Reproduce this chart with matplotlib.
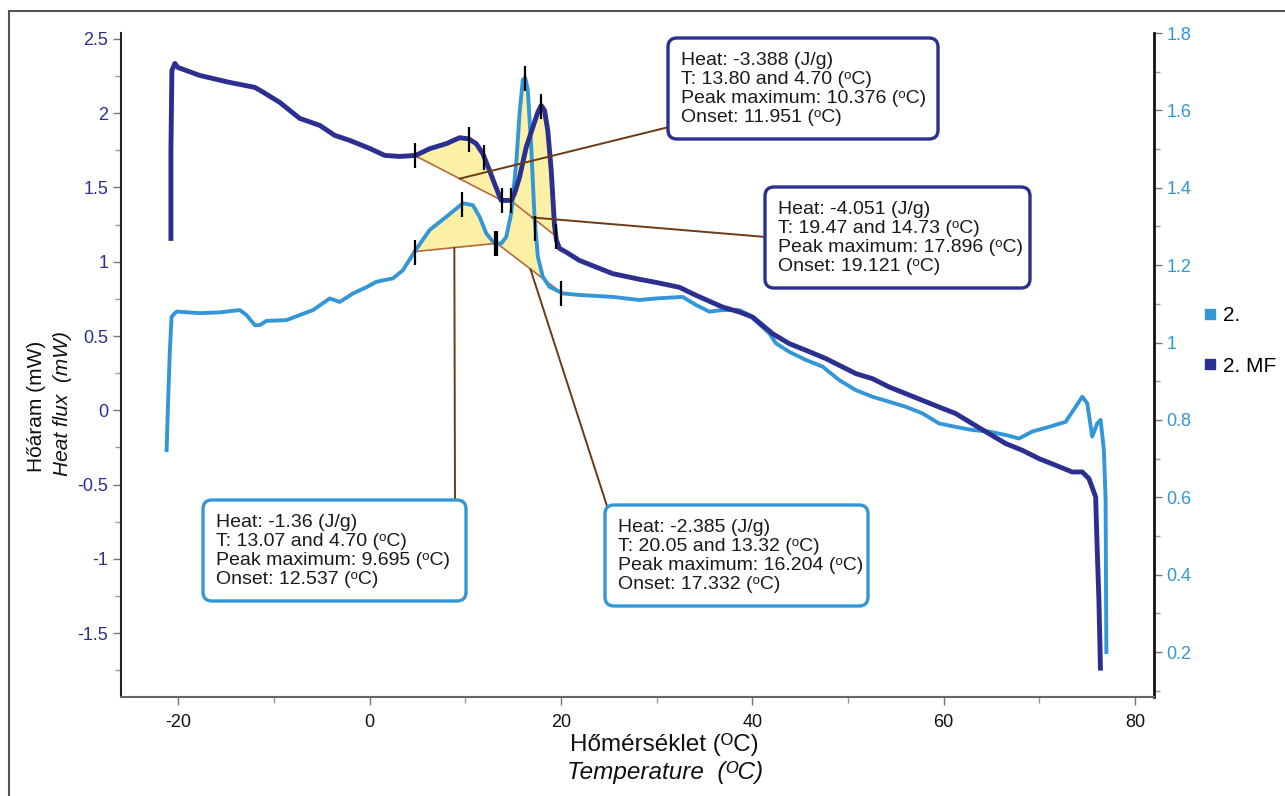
import numpy as np
import matplotlib.pyplot as plt
from matplotlib.patches import FancyBboxPatch
from matplotlib.lines import Line2D
from matplotlib.ticker import MultipleLocator, FormatStrFormatter

plt.rcParams['font.family'] = ['Liberation Sans', 'DejaVu Sans']
plt.rcParams['axes.unicode_minus'] = False

DARK = '#2b2f8f'
LIGHT = '#3397d7'
FILL = '#fbf0a6'
BASE = '#b8693a'
LINK = '#6b3a12'

# sample "2. MF" -> left axis (mW)
temp_mf = [-20.78, -20.78, -20.68, -20.37, -20.05, -17.75, -14.62, -12.01, -11.28, -9.40,
           -7.31, -5.22, -3.66, -2.09, 0.00, 1.57, 3.13, 4.80, 6.27, 8.01,
           9.40, 10.34, 11.14, 11.83, 12.53, 13.05, 13.75, 14.80, 15.14, 15.67,
           16.37, 17.06, 17.58, 17.93, 18.28, 18.62, 18.98, 19.32, 19.53, 19.84,
           20.54, 21.93, 23.68, 25.41, 28.20, 29.94, 32.38, 34.12, 36.90, 38.64,
           40.03, 42.12, 43.86, 45.61, 47.70, 49.09, 50.83, 52.56, 54.31, 56.05,
           57.79, 59.53, 61.27, 63.01, 64.75, 66.50, 68.23, 69.97, 71.72, 73.45,
           74.50, 75.20, 75.90, 76.03, 76.24, 76.40]
flux_mf = [1.157, 1.750, 2.288, 2.335, 2.308, 2.254, 2.207, 2.174, 2.147, 2.073,
           1.965, 1.918, 1.851, 1.817, 1.763, 1.716, 1.709, 1.716, 1.761, 1.795,
           1.835, 1.828, 1.795, 1.727, 1.615, 1.526, 1.413, 1.413, 1.458, 1.570,
           1.772, 1.906, 2.007, 2.052, 2.019, 1.884, 1.615, 1.245, 1.144, 1.090,
           1.065, 1.009, 0.964, 0.920, 0.882, 0.861, 0.828, 0.774, 0.695, 0.662,
           0.628, 0.516, 0.449, 0.404, 0.348, 0.303, 0.247, 0.213, 0.157, 0.112,
           0.067, 0.022, -0.022, -0.090, -0.157, -0.224, -0.269, -0.325, -0.370, -0.415,
           -0.415, -0.460, -0.583, -0.875, -1.279, -1.736]

# sample "2." -> right axis
temp_2 = [-21.23, -21.06, -20.89, -20.71, -20.19, -17.75, -15.67, -13.58, -12.88, -12.01,
          -11.49, -10.79, -8.70, -7.31, -5.92, -4.18, -3.13, -1.74, -0.34, 0.70,
          2.43, 3.48, 4.80, 6.27, 8.01, 9.74, 10.79, 11.49, 12.19, 13.05,
          13.75, 14.28, 14.80, 15.32, 15.67, 16.01, 16.26, 16.53, 16.89, 17.23,
          17.58, 18.10, 18.80, 20.19, 21.93, 25.41, 28.20, 29.94, 32.72, 34.12,
          35.51, 36.90, 38.64, 39.69, 41.78, 42.48, 43.86, 45.61, 47.34, 49.09,
          50.83, 52.56, 54.31, 56.05, 57.79, 59.53, 61.27, 63.01, 64.75, 66.50,
          67.89, 69.27, 71.02, 72.76, 73.81, 74.50, 75.02, 75.54, 76.06, 76.42,
          76.76, 76.94, 76.97, 77.02]
flux_2 = [0.722, 0.860, 0.981, 1.067, 1.080, 1.076, 1.078, 1.084, 1.071, 1.045,
          1.045, 1.056, 1.058, 1.071, 1.084, 1.114, 1.105, 1.127, 1.143, 1.157,
          1.166, 1.187, 1.239, 1.291, 1.325, 1.360, 1.355, 1.325, 1.282, 1.256,
          1.256, 1.273, 1.334, 1.463, 1.592, 1.679, 1.684, 1.653, 1.506, 1.325,
          1.222, 1.170, 1.144, 1.127, 1.123, 1.118, 1.110, 1.114, 1.118, 1.097,
          1.080, 1.084, 1.084, 1.071, 1.024, 0.998, 0.976, 0.955, 0.938, 0.903,
          0.877, 0.860, 0.847, 0.834, 0.817, 0.791, 0.782, 0.774, 0.770, 0.761,
          0.752, 0.770, 0.782, 0.795, 0.834, 0.860, 0.843, 0.757, 0.791, 0.800,
          0.722, 0.593, 0.438, 0.200]

# integration limits and marked temperatures
peaks_mf = [(4.70, 13.80), (14.73, 19.47)]
peaks_2 = [(4.70, 13.07), (13.32, 20.05)]
marks_mf = [4.70, 10.376, 11.951, 13.80, 14.73, 17.896, 19.47]
marks_2 = [4.70, 9.695, 13.07, 13.32, 16.204, 17.332, 20.05]

# callout texts, the temperature on the baseline where the leader starts
notes_mf = [
    ("Heat: -3.388 (J/g)\nT: 13.80 and 4.70 (ᵒC)\n"
     "Peak maximum: 10.376 (ᵒC)\nOnset: 11.951 (ᵒC)", 9.4),
    ("Heat: -4.051 (J/g)\nT: 19.47 and 14.73 (ᵒC)\n"
     "Peak maximum: 17.896 (ᵒC)\nOnset: 19.121 (ᵒC)", 17.0),
]
notes_2 = [
    ("Heat: -1.36 (J/g)\nT: 13.07 and 4.70 (ᵒC)\n"
     "Peak maximum: 9.695 (ᵒC)\nOnset: 12.537 (ᵒC)", 8.85),
    ("Heat: -2.385 (J/g)\nT: 20.05 and 13.32 (ᵒC)\n"
     "Peak maximum: 16.204 (ᵒC)\nOnset: 17.332 (ᵒC)", 16.8),
]
# box rectangles in image pixels: left, top, right, bottom
boxes_mf = [(668, 38, 938, 139), (765, 187, 1030, 288)]
boxes_2 = [(203, 500, 466, 601), (605, 505, 868, 606)]
# where the leader meets the box
ends_mf = [(669, 127), (766, 237)]
ends_2 = [(455, 501), (607, 506)]

W, H = 1285, 796
fig = plt.figure(figsize=(W / 100, H / 100), dpi=100)
ax = fig.add_axes([121 / W, 99 / H, (1154 - 121) / W, (697 - 33) / H])
ax2 = ax.twinx()
ax.set_zorder(2)
ax2.set_zorder(1)
ax.patch.set_visible(False)

ax.set_xlim(-26, 82)
ax.set_ylim(-1.93, 2.54)
ax2.set_ylim(0.084, 1.8)


def baseline(T, F, t0, t1, t):
    f0, f1 = np.interp([t0, t1], T, F)
    return np.interp(t, [t0, t1], [f0, f1])


def draw_peaks(T, F, peaks, tr):
    for t0, t1 in peaks:
        g = np.linspace(t0, t1, 300)
        c = np.interp(g, T, F)
        b = baseline(T, F, t0, t1, g)
        ax.fill_between(g, c, b, where=c >= b, interpolate=True, color=FILL,
                        lw=0, zorder=1, transform=tr)
        ax.plot([t0, t1], baseline(T, F, t0, t1, np.array([t0, t1])), color=BASE,
                lw=1.2, zorder=2, transform=tr)


draw_peaks(temp_mf, flux_mf, peaks_mf, ax.transData)
draw_peaks(temp_2, flux_2, peaks_2, ax2.transData)

ax.plot(temp_2, flux_2, color=LIGHT, lw=2.8, zorder=3, transform=ax2.transData,
        solid_joinstyle='round')
ax.plot(temp_mf, flux_mf, color=DARK, lw=3.5, zorder=4, solid_joinstyle='round')

ax.plot(marks_mf, np.interp(marks_mf, temp_mf, flux_mf), ls='none', marker='|',
        ms=18, mew=1.6, color='black', zorder=6)
ax.plot(marks_2, np.interp(marks_2, temp_2, flux_2), ls='none', marker='|',
        ms=18, mew=1.6, color='black', zorder=6, transform=ax2.transData)


def pix(x, y):
    return x / 100, (H - y) / 100


def callouts(T, F, peaks, notes, boxes, ends, tr, edge):
    for (txt, tl), (l, t, r, b), (ex, ey) in zip(notes, boxes, ends):
        p = [pk for pk in peaks if pk[0] <= tl <= pk[1]][0]
        yb = baseline(T, F, p[0], p[1], tl)
        ax.annotate('', xy=(tl, yb), xycoords=tr, xytext=pix(ex, ey),
                    textcoords=fig.dpi_scale_trans, annotation_clip=False,
                    arrowprops=dict(arrowstyle='-', color=LINK, lw=1.4,
                                    shrinkA=0, shrinkB=0), zorder=5)
        x0, y0 = pix(l, b)
        box = FancyBboxPatch((x0, y0), (r - l) / 100, (b - t) / 100,
                             boxstyle='round,pad=0,rounding_size=0.09',
                             transform=fig.dpi_scale_trans, facecolor='white',
                             edgecolor=edge, lw=2.4, zorder=10)
        fig.add_artist(box)
        fig.text(*pix(l + 13, t + 14), txt, transform=fig.dpi_scale_trans,
                 ha='left', va='top', fontsize=14, linespacing=1.16,
                 color='#1a1a1a', zorder=11)


callouts(temp_mf, flux_mf, peaks_mf, notes_mf, boxes_mf, ends_mf, ax.transData, DARK)
callouts(temp_2, flux_2, peaks_2, notes_2, boxes_2, ends_2, ax2.transData, LIGHT)

# axes styling
ax.spines['top'].set_visible(False)
ax.spines['right'].set_visible(False)
ax2.spines['top'].set_visible(False)
ax2.spines['left'].set_visible(False)
ax2.spines['bottom'].set_visible(False)
ax.spines['left'].set_color('#222222')
ax.spines['left'].set_linewidth(1.5)
ax.spines['bottom'].set_color('#666666')
ax.spines['bottom'].set_linewidth(1.5)
ax2.spines['right'].set_color('#111111')
ax2.spines['right'].set_linewidth(2)

ax.set_xticks([-20, 0, 20, 40, 60, 80])
ax.xaxis.set_minor_locator(MultipleLocator(10))
ax.yaxis.set_major_locator(MultipleLocator(0.5))
ax.yaxis.set_minor_locator(MultipleLocator(0.25))
ax2.yaxis.set_major_locator(MultipleLocator(0.2))
ax2.yaxis.set_minor_locator(MultipleLocator(0.1))
ax.yaxis.set_major_formatter(FormatStrFormatter('%g'))
ax2.yaxis.set_major_formatter(FormatStrFormatter('%g'))

for a in (ax, ax2):
    a.tick_params(which='major', direction='out', length=6, width=1, color='#777777',
                  labelsize=13)
    a.tick_params(which='minor', direction='out', length=4, width=1, color='#999999')
ax.tick_params(axis='y', labelcolor=DARK, pad=3)
ax.tick_params(axis='x', labelcolor='#111111', pad=6)
ax2.tick_params(axis='y', labelcolor=LIGHT, pad=3)

# axis titles
fig.text(37 / W, 1 - 406 / H, 'Hőáram (mW)', rotation=90, ha='center', va='center',
         fontsize=15, color='#111111')
fig.text(63 / W, 1 - 403 / H, 'Heat flux  (mW)', rotation=90, ha='center', va='center',
         fontsize=15, style='italic', color='#111111')
fig.text(664 / W, 1 - 744 / H, 'Hőmérséklet (ᴼC)', ha='center', va='center',
         fontsize=17.5, color='#111111')
fig.text(665 / W, 1 - 773 / H, 'Temperature  (ᴼC)', ha='center', va='center',
         fontsize=17.5, style='italic', color='#111111')

# legend
handles = [Line2D([], [], ls='none', marker='s', ms=7, color=LIGHT),
           Line2D([], [], ls='none', marker='s', ms=7, color=DARK)]
fig.legend(handles, ['2.', '2. MF'], loc='center left',
           bbox_to_anchor=(1193 / W, 1 - 341 / H), frameon=False, fontsize=15,
           labelspacing=1.5, handlelength=0.6, handletextpad=0.35, borderpad=0)

# outer frame of the picture
fig.add_artist(Line2D([9 / W, 1], [1 - 11 / H, 1 - 11 / H], transform=fig.transFigure,
                      color='#555555', lw=1.5))
fig.add_artist(Line2D([9 / W, 9 / W], [0, 1 - 11 / H], transform=fig.transFigure,
                      color='#555555', lw=1.5))

fig.savefig('out.png', dpi=100)
